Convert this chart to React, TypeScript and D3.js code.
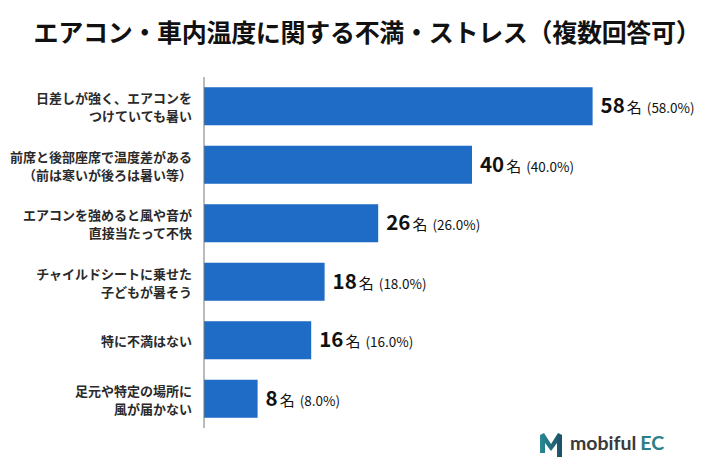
import * as d3 from 'd3';
import * as React from 'react';
import { useEffect, useRef } from 'react';

const title = 'エアコン・車内温度に関する不満・ストレス（複数回答可）';

const categories: string[][] = [
  ['日差しが強く、エアコンを', 'つけていても暑い'],
  ['前席と後部座席で温度差がある', '（前は寒いが後ろは暑い等）'],
  ['エアコンを強めると風や音が', '直接当たって不快'],
  ['チャイルドシートに乗せた', '子どもが暑そう'],
  ['特に不満はない'],
  ['足元や特定の場所に', '風が届かない'],
];

const counts = [58, 40, 26, 18, 16, 8];
const percents = ['58.0%', '40.0%', '26.0%', '18.0%', '16.0%', '8.0%'];

const width = 710;
const height = 474;
const font = '"Noto Sans CJK JP", "Noto Sans", sans-serif';

const App: React.FC = () => {
  const ref = useRef<SVGSVGElement>(null);

  useEffect(() => {
    document.body.style.margin = '0';
    if (!ref.current) return;
    const svg = d3.select(ref.current);
    svg.selectAll('*').remove();

    const x = d3.scaleLinear().domain([0, 60]).range([204, 606]);
    const y = d3
      .scaleBand<number>()
      .domain(d3.range(categories.length))
      .range([77, 428])
      .paddingInner(0.35)
      .paddingOuter(0.175);

    svg
      .append('rect')
      .attr('width', width)
      .attr('height', height)
      .attr('fill', '#ffffff');

    svg
      .append('text')
      .attr('x', width / 2 + 12)
      .attr('y', 42)
      .attr('text-anchor', 'middle')
      .attr('font-family', font)
      .attr('font-weight', 700)
      .attr('font-size', 25)
      .attr('letter-spacing', -0.3)
      .attr('fill', '#111')
      .text(title);

    const bars = svg.append('g');
    bars
      .selectAll('rect')
      .data(counts)
      .join('rect')
      .attr('x', x(0))
      .attr('y', (_, i) => y(i)!)
      .attr('width', (d) => x(d) - x(0))
      .attr('height', y.bandwidth())
      .attr('fill', '#1f6cc6');

    // axis line
    svg
      .append('line')
      .attr('x1', x(0))
      .attr('x2', x(0))
      .attr('y1', y.range()[0])
      .attr('y2', y.range()[1])
      .attr('stroke', '#777')
      .attr('stroke-width', 1);

    // category labels
    const labels = svg
      .append('g')
      .attr('font-family', font)
      .attr('font-weight', 700)
      .attr('font-size', 13)
      .attr('fill', '#2a2a2a')
      .attr('text-anchor', 'end');

    categories.forEach((lines, i) => {
      const cy = y(i)! + y.bandwidth() / 2;
      const t = labels
        .append('text')
        .attr('x', x(0) - 12)
        .attr('y', cy)
        .attr('dominant-baseline', 'central');
      lines.forEach((line, j) => {
        t.append('tspan')
          .attr('x', x(0) - 12)
          .attr('y', cy + (j - (lines.length - 1) / 2) * 18)
          .text(line);
      });
    });

    // value labels
    const values = svg
      .append('g')
      .attr('font-family', font)
      .attr('fill', '#111');

    counts.forEach((d, i) => {
      const cy = y(i)! + y.bandwidth() / 2;
      const t = values
        .append('text')
        .attr('x', x(d) + 8)
        .attr('y', cy + 7);
      t.append('tspan')
        .attr('font-size', 20.5)
        .attr('font-weight', 700)
        .text(String(d));
      t.append('tspan')
        .attr('font-size', 15)
        .attr('font-weight', 400)
        .attr('dx', 2)
        .text('名');
      t.append('tspan')
        .attr('font-size', 13.5)
        .attr('font-weight', 400)
        .attr('dx', 5)
        .text(`(${percents[i]})`);
    });

    // logo
    const logo = svg.append('g').attr('transform', 'translate(540,433)');
    const grad = svg
      .append('defs')
      .append('linearGradient')
      .attr('id', 'mgrad')
      .attr('x1', 0)
      .attr('x2', 1);
    grad.append('stop').attr('offset', 0).attr('stop-color', '#2b8a93');
    grad.append('stop').attr('offset', 1).attr('stop-color', '#1b4f66');
    logo
      .append('path')
      .attr('d', 'M0,20 L0,2 L4,0 L11,11 L18,0 L22,2 L22,24 L17,24 L17,10 L11,18 L5,10 L5,20 Z')
      .attr('fill', 'url(#mgrad)');
    const lt = logo
      .append('text')
      .attr('x', 30)
      .attr('y', 17)
      .attr('font-family', 'Lato, "Open Sans", sans-serif')
      .attr('font-weight', 700)
      .attr('font-size', 19.5);
    lt.append('tspan').attr('fill', '#3a3a3a').text('mobiful');
    lt.append('tspan').attr('fill', '#2a7f88').attr('dx', 4).text('EC');
  }, []);

  return <svg ref={ref} width={width} height={height} style={{ display: 'block' }} />;
};

export default App;
